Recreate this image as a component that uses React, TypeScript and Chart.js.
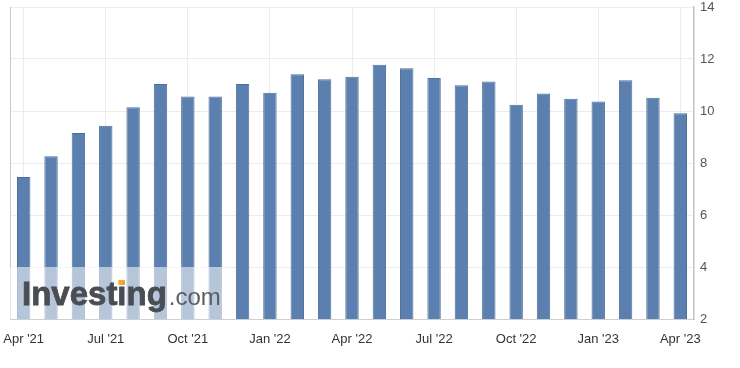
import React, { useEffect, useRef } from "react";
import { Chart, registerables } from "chart.js";

Chart.register(...registerables);

const months: string[] = [
  "Apr '21", "May '21", "Jun '21", "Jul '21", "Aug '21", "Sep '21", "Oct '21", "Nov '21", "Dec '21",
  "Jan '22", "Feb '22", "Mar '22", "Apr '22", "May '22", "Jun '22", "Jul '22", "Aug '22", "Sep '22",
  "Oct '22", "Nov '22", "Dec '22", "Jan '23", "Feb '23", "Mar '23", "Apr '23",
];

const values: number[] = [
  7.46, 8.26, 9.15, 9.43, 10.14, 11.04, 10.56, 10.56, 11.04,
  10.7, 11.41, 11.22, 11.32, 11.78, 11.64, 11.27, 10.99, 11.13,
  10.24, 10.67, 10.47, 10.37, 11.18, 10.51, 9.91,
];

const yMin = 2;
const yMax = 14;
const yStep = 2;
const labelEvery = 3;

const watermark = {
  id: "watermark",
  afterDatasetsDraw(chart: any) {
    const { ctx, chartArea } = chart;
    const left = chartArea.left;
    const bottom = chartArea.bottom;
    ctx.save();
    ctx.fillStyle = "rgba(255,255,255,0.55)";
    ctx.fillRect(left, bottom - 52, 214, 52);
    ctx.textBaseline = "alphabetic";
    ctx.fillStyle = "#4a4d52";
    ctx.font = "bold 33px 'Liberation Sans', Arial, sans-serif";
    const base = bottom - 14;
    const x0 = left + 12;
    ctx.fillText("Investing", x0, base);
    ctx.lineWidth = 0.8;
    ctx.strokeStyle = "#4a4d52";
    ctx.strokeText("Investing", x0, base);
    const w = ctx.measureText("Investing").width;
    const wBefore = ctx.measureText("Invest").width;
    const wi = ctx.measureText("i").width;
    ctx.fillStyle = "#f5a623";
    ctx.fillRect(x0 + wBefore + 1, base - 25, wi - 3, 5);
    ctx.fillStyle = "#5a5d62";
    ctx.font = "24px 'Liberation Sans', Arial, sans-serif";
    ctx.fillText(".com", x0 + w + 2, base);
    ctx.restore();
  },
};

export default function App() {
  const ref = useRef<HTMLCanvasElement>(null);
  useEffect(() => {
    if (!ref.current) return;
    const chart = new Chart(ref.current, {
      type: "bar",
      data: {
        labels: months,
        datasets: [
          {
            data: values,
            backgroundColor: "#5b7fae",
            borderColor: "#4d6f9b",
            borderWidth: 1,
            barPercentage: 0.49,
            categoryPercentage: 1,
            yAxisID: "y",
          },
        ],
      },
      options: {
        animation: false,
        responsive: false,
        maintainAspectRatio: false,
        layout: { padding: { left: 10, top: 0, right: 0, bottom: 0 } },
        plugins: { legend: { display: false }, tooltip: { enabled: false } },
        scales: {
          x: {
            offset: true,
            grid: {
              offset: false,
              drawTicks: false,
              color: (c: any) => (c.index % labelEvery === 0 ? "#ececec" : "rgba(0,0,0,0)"),
            },
            border: { display: true, color: "#cfcfcf", width: 1 },
            ticks: {
              autoSkip: false,
              maxRotation: 0,
              padding: 13,
              color: "#333333",
              font: { size: 13, family: "'Liberation Sans', Arial, sans-serif" },
              callback: (_v: any, i: number) => (i % labelEvery === 0 ? months[i] : ""),
            },
            afterFit: (s: any) => {
              s.height = 49;
              s.paddingLeft = 0;
              s.paddingRight = 0;
            },
          },
          y: {
            position: "right",
            min: yMin,
            max: yMax,
            grid: { color: "#ececec", drawTicks: false },
            border: { display: true, color: "#c4c4c4", width: 1.5 },
            ticks: {
              stepSize: yStep,
              padding: 6,
              color: "#555555",
              font: { size: 13, family: "'Liberation Sans', Arial, sans-serif" },
            },
            afterFit: (s: any) => {
              s.width = 46;
              s.paddingTop = 7;
              s.paddingBottom = 0;
            },
          },
          yLeft: {
            position: "left",
            min: yMin,
            max: yMax,
            grid: { display: false, drawTicks: false },
            border: { display: true, color: "#c8c8c8", width: 1 },
            ticks: { display: false },
            afterFit: (s: any) => {
              s.width = 0;
              s.paddingTop = 7;
              s.paddingBottom = 0;
            },
          },
        },
      },
      plugins: [watermark],
    });
    return () => chart.destroy();
  }, []);
  return (
    <div style={{ position: "fixed", left: 0, top: 0, width: 740, height: 368, background: "#fff" }}>
      <canvas ref={ref} width={740} height={368} style={{ width: 740, height: 368 }} />
    </div>
  );
}
